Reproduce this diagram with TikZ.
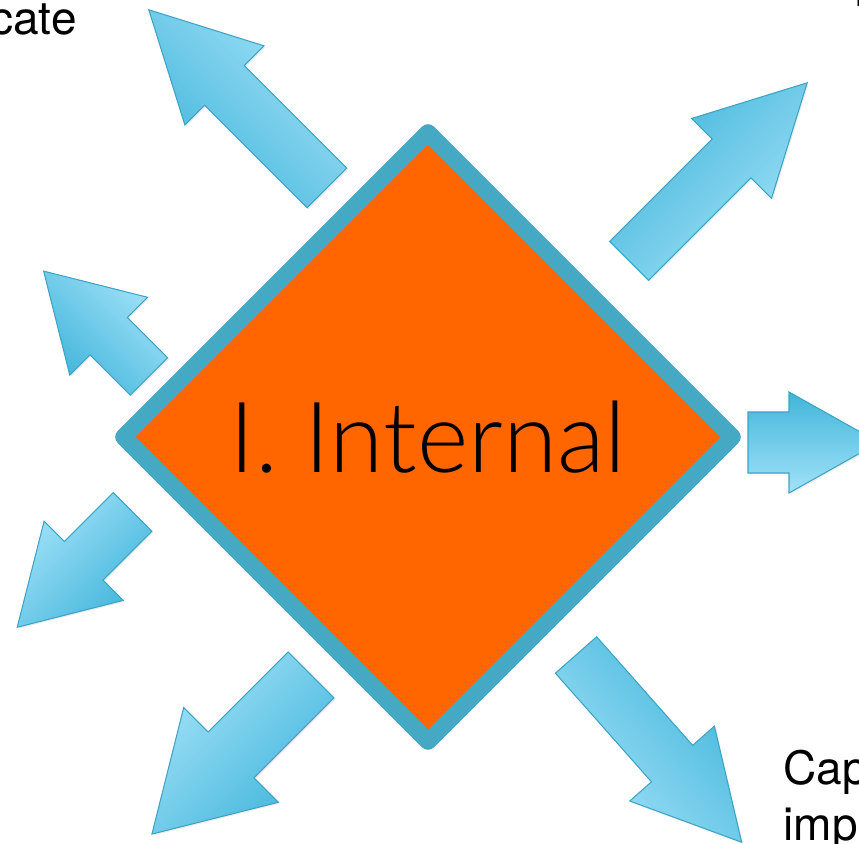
\documentclass[tikz,border=0pt]{standalone}
\usepackage{fontspec}
\setmainfont{TeX Gyre Heros}
\newfontfamily\thinfont{Lato Light}
\usetikzlibrary{shapes.geometric,
	shadows}
\definecolor{rim}{HTML}{45A9C4}
\definecolor{core}{HTML}{FF6600}
\definecolor{arrowrim}{HTML}{3EA3C4}
\definecolor{arrowdark}{HTML}{41B5DA}
\definecolor{arrowlight}{HTML}{A2E2F8}
\begin{document}
\begin{tikzpicture}[x=0.02cm,y=0.02cm]
    \tikzstyle{blockarrow}=[draw=arrowrim,line width=0.6pt,top color=arrowdark,bottom color=arrowlight,drop shadow={opacity=0.15,shadow xshift=0.8pt,shadow yshift=-0.8pt}]
    \tikzstyle{outtext}=[font=\fontsize{26.2}{31}\selectfont,inner sep=0pt]
    \useasboundingbox (0,0) rectangle (859,844);
    % tail x / tail y / angle / length / shaft / head width / head length
    \foreach \tx/\ty/\ang/\len/\sw/\hw/\hl in {327/656/135/252/56/112/107,
        629/583/45/252/55/113/107,
        576/189/-48.5/250/55/113/105,
        149/467.5/135/149/53/110/92,
        132.5/332/-135/163/54.5/112/94,
        748/401.5/0/131/61/101/90,
        311/169/-135/225/65/134/112}
      \shade[blockarrow,shading angle=\ang,shift={(\tx,\ty)},rotate=\ang]
        (0,{-\sw/2}) -- ({\len-\hl},{-\sw/2}) -- ({\len-\hl},{-\hw/2}) -- (\len,0)
        -- ({\len-\hl},{\hw/2}) -- ({\len-\hl},{\sw/2}) -- (0,{\sw/2}) -- cycle;
    \node[diamond,draw=rim,fill=core,line width=9.5pt,line join=round,aspect=1,
        minimum width=12.32cm,minimum height=12.32cm,inner sep=0pt,
        drop shadow={opacity=0.15,shadow xshift=0.8pt,shadow yshift=-0.8pt},
        font=\thinfont\fontsize{56}{60}\selectfont] (core) at (428,407) {I. Internal};
    \node[outtext,anchor=base east] (cate) at (77,809) {cate};
    \node[outtext,anchor=base west] (p) at (855,847.5) {p};
    \node[outtext,anchor=base west] (cap) at (783,59) {Cap};
    \node[outtext,anchor=base west] (imp) at (783,3) {imp};
\end{tikzpicture}
\end{document}
